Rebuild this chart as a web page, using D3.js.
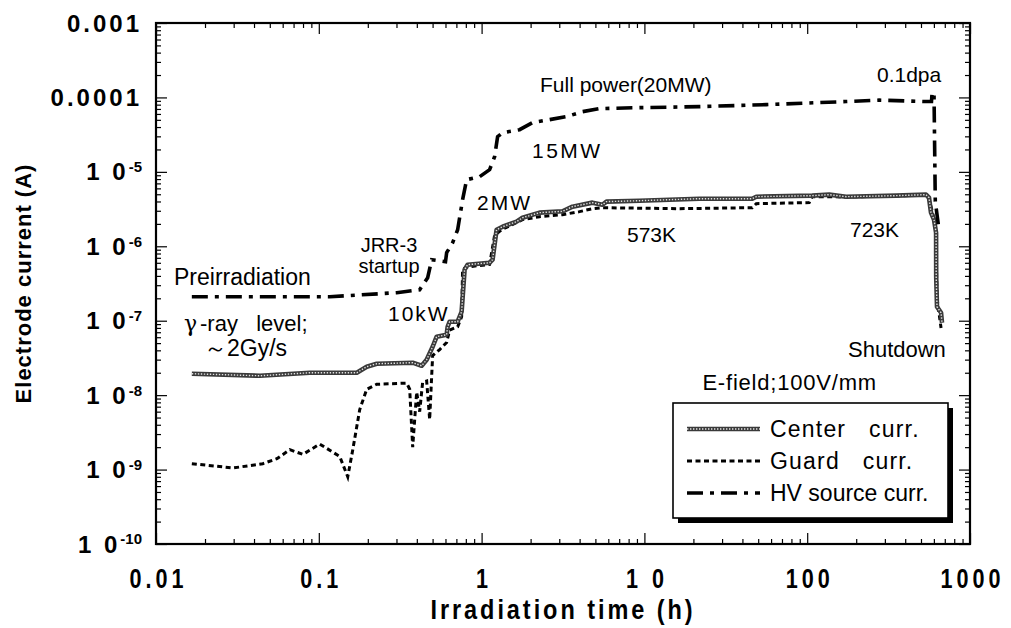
<!DOCTYPE html>
<html>
<head>
<meta charset="utf-8">
<script src="https://cdn.jsdelivr.net/npm/d3@7/dist/d3.min.js"></script>
<style>
  body { margin: 0; background: #fff; }
  svg { display: block; }
  text { font-family: "Liberation Sans", Arial, Helvetica, sans-serif; fill: #000; }
</style>
</head>
<body>
<svg id="chart" width="1011" height="628"></svg>
<script>
// Irradiation time (h) and electrode current (A) readings
const hvTime = [0.0166, 0.1168, 0.301, 0.4165, 0.4664, 0.4935, 0.60, 0.61, 0.664, 0.7126, 0.7644, 0.8091, 0.972, 1.12, 1.202, 1.254, 1.345, 1.711, 2.056, 2.613, 3.32, 4.166, 5.296, 9.32, 21.75, 56.0, 113.6, 173.5, 276.5, 537.0, 580.0, 585.0, 601.0, 612.0, 645.0];
const hvCurrent = [2.1e-7, 2.1e-7, 2.38e-7, 2.61e-7, 3.78e-7, 6.6e-7, 6.2e-7, 8.2e-7, 1.12e-6, 1.67e-6, 4.23e-6, 7.85e-6, 8.6e-6, 1.07e-5, 1.6e-5, 2.97e-5, 3.36e-5, 3.69e-5, 4.58e-5, 5.03e-5, 5.52e-5, 6.44e-5, 7.07e-5, 7.29e-5, 7.52e-5, 8.0e-5, 8.5e-5, 8.8e-5, 9.2e-5, 8.8e-5, 8.8e-5, 1.16e-4, 1.16e-4, 4.0e-6, 1.67e-6];

const centerTime = [0.0166, 0.0435, 0.0881, 0.1711, 0.197, 0.2269, 0.3773, 0.4285, 0.4598, 0.5005, 0.5296, 0.6098, 0.6185, 0.6363, 0.7126, 0.7538, 0.7864, 0.8206, 1.12, 1.168, 1.236, 1.345, 1.64, 1.784, 2.269, 3.14, 3.617, 4.797, 5.525, 5.847, 9.32, 21.75, 46.0, 48.65, 107.3, 136.5, 173.5, 351.6, 537.0, 560.0, 576.0, 601.0, 619.0, 620.0, 627.0, 664.0, 673.0];
const centerCurrent = [1.94e-8, 1.82e-8, 2.0e-8, 2.0e-8, 2.41e-8, 2.64e-8, 2.73e-8, 2.48e-8, 2.99e-8, 4.47e-8, 6.1e-8, 6.48e-8, 8.3e-8, 9.7e-8, 9.7e-8, 1.32e-7, 4.85e-7, 5.66e-7, 6.02e-7, 6.61e-7, 1.67e-6, 1.83e-6, 2.14e-6, 2.42e-6, 2.83e-6, 2.95e-6, 3.41e-6, 3.86e-6, 3.62e-6, 3.98e-6, 4.1e-6, 4.36e-6, 4.36e-6, 4.64e-6, 4.79e-6, 4.94e-6, 4.64e-6, 4.79e-6, 4.94e-6, 4.5e-6, 2.83e-6, 2.28e-6, 1.52e-6, 3.9e-7, 1.54e-7, 1.28e-7, 9.4e-8];

const guardTime = [0.0166, 0.0297, 0.0453, 0.0553, 0.0664, 0.0798, 0.1014, 0.1345, 0.1506, 0.1617, 0.1784, 0.197, 0.2269, 0.3467, 0.3617, 0.3773, 0.3992, 0.4165, 0.4345, 0.4598, 0.4797, 0.4935, 0.5005, 0.5525, 0.6098, 0.6363, 0.7126, 0.7538, 0.7644, 0.8206, 1.12, 1.202, 1.327, 1.784, 2.269, 3.14, 3.993, 4.797, 5.525, 16.4, 46.0, 48.65, 102.9, 107.3, 173.5, 351.6, 537.0, 560.0, 585.0, 610.0, 619.0, 627.0, 664.0];
const guardCurrent = [1.2e-9, 1.05e-9, 1.2e-9, 1.4e-9, 1.85e-9, 1.6e-9, 2.2e-9, 1.5e-9, 8.0e-10, 1.85e-9, 6.4e-9, 1.2e-8, 1.4e-8, 1.45e-8, 1.2e-8, 2.0e-9, 1.1e-8, 6.0e-9, 1.5e-8, 1.55e-8, 4.7e-9, 1.8e-8, 3.4e-8, 4.1e-8, 5.1e-8, 7.5e-8, 8.3e-8, 1.13e-7, 4.9e-7, 5.3e-7, 5.7e-7, 1.4e-6, 1.67e-6, 2.28e-6, 2.5e-6, 2.66e-6, 2.92e-6, 3.2e-6, 3.3e-6, 3.2e-6, 3.3e-6, 3.74e-6, 3.86e-6, 4.64e-6, 4.6e-6, 4.75e-6, 4.9e-6, 4.3e-6, 3.0e-6, 2.0e-6, 1.3e-6, 2.0e-7, 8.0e-8];

const xTickValues = [0.01, 0.1, 1, 10, 100, 1000];
const xTickLabels = ["0.01", "0.1", "1", "1 0", "100", "1000"];
const yTickValues = [1e-3, 1e-4, 1e-5, 1e-6, 1e-7, 1e-8, 1e-9, 1e-10];
const yTickBase = ["0.001", "0.0001", "1 0", "1 0", "1 0", "1 0", "1 0", "1 0"];
const yTickExp = ["", "", "-5", "-6", "-7", "-8", "-9", "-10"];

const seriesNames = ["Center   curr.", "Guard   curr.", "HV source curr."];

const svg = d3.select("#chart");
const plotLeft = 156, plotRight = 970, plotTop = 23, plotBottom = 544;

const x = d3.scaleLog().domain([0.01, 1000]).range([plotLeft, plotRight]);
const y = d3.scaleLog().domain([1e-10, 1e-3]).range([plotBottom, plotTop]);

// minor tick values for each decade
const xMinor = [], yMinor = [];
for (let e = -2; e < 3; e++) for (let k = 2; k <= 9; k++) xMinor.push(k * Math.pow(10, e));
for (let e = -10; e < -3; e++) for (let k = 2; k <= 9; k++) yMinor.push(k * Math.pow(10, e));

const MAJ = 11, MIN = 5;
function tickAxis(gen, scale, values, size, tx, ty) {
  const g = svg.append("g").attr("transform", `translate(${tx},${ty})`)
    .call(gen(scale).tickValues(values).tickSize(size).tickFormat(""));
  g.select(".domain").remove();
  g.selectAll(".tick line").attr("stroke", "#000").attr("stroke-width", 1.2);
  return g;
}
// inward ticks on all four sides
tickAxis(d3.axisBottom, x, xTickValues, -MAJ, 0, plotBottom);
tickAxis(d3.axisBottom, x, xMinor, -MIN, 0, plotBottom);
tickAxis(d3.axisTop, x, xTickValues, -MAJ, 0, plotTop);
tickAxis(d3.axisTop, x, xMinor, -MIN, 0, plotTop);
tickAxis(d3.axisLeft, y, yTickValues, -MAJ, plotLeft, 0);
tickAxis(d3.axisLeft, y, yMinor, -MIN, plotLeft, 0);
tickAxis(d3.axisRight, y, yTickValues, -MAJ, plotRight, 0);
tickAxis(d3.axisRight, y, yMinor, -MIN, plotRight, 0);

// x tick labels, condensed bold
const xl = svg.append("g").attr("transform", `translate(0,${plotBottom})`)
  .call(d3.axisBottom(x).tickValues(xTickValues).tickSize(0).tickPadding(0)
    .tickFormat((d, i) => xTickLabels[i]));
xl.select(".domain").remove();
xl.attr("font-family", null).attr("font-size", null);
xl.selectAll("text")
  .attr("y", 44).attr("dy", null)
  .attr("transform", "scale(0.8,1)")
  .style("font-size", "27px").style("font-weight", "bold")
  .style("letter-spacing", "5px").attr("dx", "2.5px");

// y tick labels with superscript exponents
const yl = svg.append("g");
yTickValues.forEach((v, i) => {
  const t = yl.append("text")
    .attr("x", 142).attr("y", y(v)).attr("dy", "0.36em")
    .attr("text-anchor", "end")
    .style("font-size", "24px").style("font-weight", "bold")
    .style("letter-spacing", "3px");
  t.append("tspan").text(yTickBase[i]);
  if (yTickExp[i]) {
    t.append("tspan").attr("dy", "-0.55em").style("font-size", "15px")
      .style("letter-spacing", "0px").text(yTickExp[i]);
  }
});

// frame
svg.append("rect").attr("x", plotLeft).attr("y", plotTop)
  .attr("width", plotRight - plotLeft).attr("height", plotBottom - plotTop)
  .attr("fill", "none").attr("stroke", "#000").attr("stroke-width", 2.2);

// axis titles
svg.append("text")
  .attr("transform", `translate(${(plotLeft + plotRight) / 2},619) scale(0.84,1)`)
  .attr("text-anchor", "middle")
  .style("font-size", "28px").style("font-weight", "bold").style("letter-spacing", "3.5px")
  .text("Irradiation time (h)");
svg.append("text")
  .attr("transform", `translate(31,${(plotTop + plotBottom) / 2}) rotate(-90)`)
  .attr("text-anchor", "middle")
  .style("font-size", "22px").style("font-weight", "bold").style("letter-spacing", "1px")
  .text("Electrode current (A)");

// series
const pairs = (ts, vs) => ts.map((t, i) => ({ t, v: vs[i] }));
const line = d3.line().x(d => x(d.t)).y(d => y(d.v));
const plot = svg.append("g");

function drawCenter(g, path) {
  g.append("path").attr("d", path).attr("fill", "none")
    .attr("stroke", "#3a3a3a").attr("stroke-width", 4.6).attr("stroke-linejoin", "round");
  g.append("path").attr("d", path).attr("fill", "none")
    .attr("stroke", "#fff").attr("stroke-width", 1.4).attr("stroke-dasharray", "1.4,1.6")
    .attr("stroke-opacity", 0.85);
}
function drawGuard(g, path) {
  g.append("path").attr("d", path).attr("fill", "none")
    .attr("stroke", "#000").attr("stroke-width", 3).attr("stroke-dasharray", "5,3.5");
}
function drawHV(g, path) {
  g.append("path").attr("d", path).attr("fill", "none")
    .attr("stroke", "#000").attr("stroke-width", 3.6).attr("stroke-dasharray", "16,7,4,7");
}

drawGuard(plot, line(pairs(guardTime, guardCurrent)));
drawCenter(plot, line(pairs(centerTime, centerCurrent)));
drawHV(plot, line(pairs(hvTime, hvCurrent)));

// annotations
const notes = [
  { s: "Preirradiation", x: 174, y: 285, size: 23 },
  { s: "-ray   level;", x: 200, y: 331, size: 22 },
  { s: "～2Gy/s", x: 204, y: 356, size: 23 },
  { s: "JRR-3", x: 389, y: 252, size: 20, anchor: "middle" },
  { s: "startup", x: 389, y: 273, size: 20, anchor: "middle" },
  { s: "10kW", x: 388, y: 321, size: 21, ls: 2 },
  { s: "2MW", x: 477, y: 210, size: 21, ls: 2 },
  { s: "15MW", x: 532, y: 158, size: 21, ls: 2.5 },
  { s: "Full power(20MW)", x: 540, y: 92, size: 21 },
  { s: "0.1dpa", x: 877, y: 82, size: 21 },
  { s: "573K", x: 627, y: 242, size: 21 },
  { s: "723K", x: 850, y: 237, size: 21 },
  { s: "Shutdown", x: 848, y: 357, size: 22 },
  { s: "E-field;100V/mm", x: 877, y: 390, size: 22, anchor: "end", ls: 0.8 }
];
const ann = svg.append("g");
notes.forEach(n => {
  ann.append("text").attr("x", n.x).attr("y", n.y)
    .attr("text-anchor", n.anchor || "start")
    .style("font-size", n.size + "px")
    .style("white-space", "pre")
    .style("letter-spacing", (n.ls || 0) + "px")
    .text(n.s);
});
// gamma symbol in a serif face
ann.append("text").attr("x", 184).attr("y", 331)
  .style("font-family", "'DejaVu Serif', serif")
  .style("font-size", "22px").text("γ");

// legend with drop shadow
const lg = svg.append("g");
const lx = 673, ly = 403, lw = 275, lh = 115;
lg.append("rect").attr("x", lx + 5).attr("y", ly + 5).attr("width", lw).attr("height", lh).attr("fill", "#000");
lg.append("rect").attr("x", lx).attr("y", ly).attr("width", lw).attr("height", lh)
  .attr("fill", "#fff").attr("stroke", "#000").attr("stroke-width", 1.6);
const rowY = [429, 461, 493];
const drawers = [drawCenter, drawGuard, drawHV];
seriesNames.forEach((name, i) => {
  drawers[i](lg, `M687,${rowY[i]}H760`);
  lg.append("text").attr("x", 770).attr("y", rowY[i] + 8)
    .style("font-size", "23px").style("white-space", "pre")
    .style("letter-spacing", i < 2 ? "1.2px" : "0px")
    .text(name);
});
</script>
</body>
</html>
